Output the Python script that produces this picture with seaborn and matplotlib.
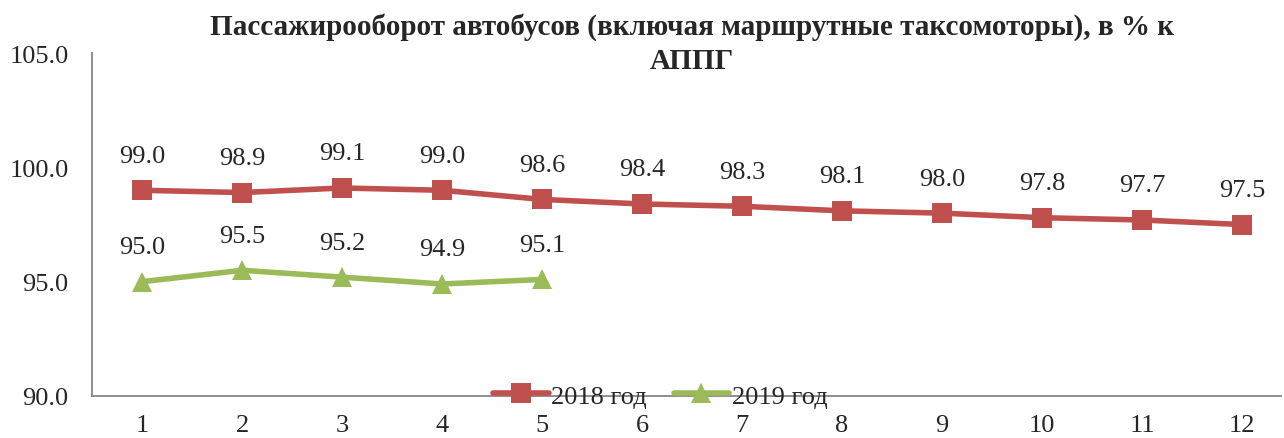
import pandas as pd
import matplotlib.pyplot as plt
import seaborn as sns

# data
months = list(range(1, 13))
y2018 = [99.0, 98.9, 99.1, 99.0, 98.6, 98.4, 98.3, 98.1, 98.0, 97.8, 97.7, 97.5]
months_2019 = [1, 2, 3, 4, 5]
y2019 = [95.0, 95.5, 95.2, 94.9, 95.1]

df = pd.concat([
    pd.DataFrame({"month": months, "value": y2018, "year": "2018 год"}),
    pd.DataFrame({"month": months_2019, "value": y2019, "year": "2019 год"}),
])

sns.set_style("white")
plt.rcParams["font.family"] = ["Liberation Serif", "DejaVu Serif"]

fig = plt.figure(figsize=(12.84, 4.39), dpi=100)
ax = fig.add_axes([0.0717, 0.0957, 0.926, 0.781])

palette = {"2018 год": "#C0504D", "2019 год": "#9BBB59"}
sns.lineplot(data=df, x="month", y="value", hue="year", style="year",
             palette=palette, markers={"2018 год": "s", "2019 год": "^"},
             dashes=False, linewidth=4, markersize=14, markeredgewidth=0,
             ax=ax)

# value labels
for x, v in zip(months, y2018):
    ax.annotate(f"{v:.1f}", (x, v), xytext=(0, 17), textcoords="offset points",
                ha="center", va="bottom", fontsize=19)
for x, v in zip(months_2019, y2019):
    ax.annotate(f"{v:.1f}", (x, v), xytext=(0, 17), textcoords="offset points",
                ha="center", va="bottom", fontsize=19)

ax.set_xlim(0.5, 12.39)
ax.set_ylim(90, 105)
ax.set_yticks([90, 95, 100, 105])
ax.set_yticklabels([f"{t:.1f}" for t in [90, 95, 100, 105]], fontsize=19)
ax.set_xticks(months)
ax.set_xticklabels([str(m) for m in months], fontsize=19)
ax.tick_params(axis="x", length=0, pad=13)
ax.tick_params(axis="y", length=0, pad=17)
ax.set_xlabel("")
ax.set_ylabel("")

for side in ["top", "right"]:
    ax.spines[side].set_visible(False)
for side in ["left", "bottom"]:
    ax.spines[side].set_color("#868686")
    ax.spines[side].set_linewidth(1.3)

fig.text(0.539, 0.9, "Пассажирооборот автобусов (включая маршрутные таксомоторы), в % к\nАППГ",
         fontsize=21, fontweight="bold", ha="center", va="center", linespacing=1.35)

leg = ax.legend(loc="center", bbox_to_anchor=(0.478, 0.0), ncol=2, frameon=False,
                fontsize=19, handlelength=2.1, handletextpad=0.1, columnspacing=1.0,
                borderpad=0)

fig.savefig("out.png", dpi=100)
